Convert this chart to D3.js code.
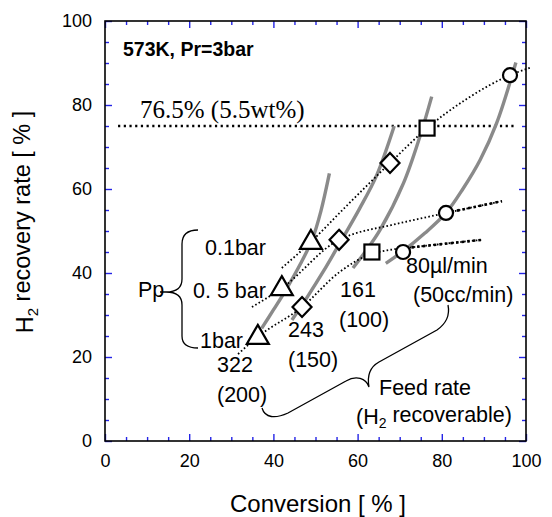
<!DOCTYPE html>
<html><head><meta charset="utf-8">
<script src="https://cdn.jsdelivr.net/npm/d3@7"></script>
<style>
body{margin:0;background:#fff;}
svg{display:block;}
text{font-family:"Liberation Sans",Arial,sans-serif;fill:#000;}
</style></head><body>
<svg id="c" width="552" height="517"></svg>
<script>
// ---- data ----
const majorTicks=[0,20,40,60,80,100];
const minorTicks=[5,10,15,25,30,35,45,50,55,65,70,75,85,90,95];
const targetLevel=75;
const targetSpan=[3.1,97.4];
// markers: feed rate 322(200), 243(150), 161(100), 80(50)
const triangles=[[36.3,24.8],[42.0,36.4],[48.9,47.4]];
const diamonds=[[46.8,31.9],[55.6,47.9],[67.7,66.2]];
const squares=[[63.4,45.0],[76.5,74.5]];
const circles=[[70.8,45.0],[81.0,54.3],[96.2,87.1]];
// gray feed-rate curves
const feed322=[[37.2,26.8],[40.0,31.2],[42.8,35.7],[46.5,42.3],[49.3,48.2],[51.3,54.8],[53.3,63.7]];
const feed243=[[44.4,28.8],[48.0,34.2],[52.0,40.6],[56.0,47.5],[60.5,55.4],[64.5,63.2],[68.7,75.0]];
const feed161=[[58.9,41.2],[62.0,45.3],[65.3,50.2],[70.9,61.4],[74.8,72.5],[77.6,82.0]];
const feed80=[[66.7,42.3],[70.8,45.2],[76.0,49.5],[81.0,54.3],[85.0,60.0],[89.1,66.9],[93.0,75.6],[97.6,90.1]];
// dotted partial-pressure curves
const pp1bar=[[31.6,20.7],[36.3,24.8],[46.8,31.9],[55.8,40.3],[63.4,44.6],[67.0,45.4],[72.8,46.1],[89.5,47.9]];
const pp05bar=[[34.9,31.9],[42.0,36.4],[55.6,47.9],[58.2,49.0],[68.0,51.4],[81.0,54.3],[94.3,57.1]];
const pp01bar=[[42.0,41.2],[48.9,47.4],[57.0,55.6],[67.7,66.2],[76.5,74.5],[86.0,81.5],[96.2,87.1],[101.4,89.0]];

// ---- drawing ----
const svg=d3.select("#c");
const x=d3.scaleLinear().domain([0,100]).range([105,526]);
const y=d3.scaleLinear().domain([0,100]).range([441,21]);
const tickCol="#2424e6";

function styleAxis(g){
  g.select(".domain").remove();
  g.selectAll(".tick line").attr("stroke",tickCol).attr("stroke-width",1.4);
  g.selectAll("text").style("font-size","18px").style("font-family",'"Liberation Sans",Arial,sans-serif').attr("fill","#000");
}
// major with labels
svg.append("g").attr("transform","translate(0,441)")
  .call(d3.axisBottom(x).tickValues(majorTicks).tickSize(-7).tickPadding(13).tickFormat(d3.format("d"))).call(styleAxis);
svg.append("g").attr("transform","translate(105,0)")
  .call(d3.axisLeft(y).tickValues(majorTicks).tickSize(-7).tickPadding(13).tickFormat(d3.format("d"))).call(styleAxis);
svg.append("g").attr("transform","translate(0,21)")
  .call(d3.axisTop(x).tickValues(majorTicks).tickSize(-7).tickFormat("")).call(styleAxis);
svg.append("g").attr("transform","translate(526,0)")
  .call(d3.axisRight(y).tickValues(majorTicks).tickSize(-7).tickFormat("")).call(styleAxis);
// minor
svg.append("g").attr("transform","translate(0,441)").call(d3.axisBottom(x).tickValues(minorTicks).tickSize(-4).tickFormat("")).call(styleAxis);
svg.append("g").attr("transform","translate(105,0)").call(d3.axisLeft(y).tickValues(minorTicks).tickSize(-4).tickFormat("")).call(styleAxis);
svg.append("g").attr("transform","translate(0,21)").call(d3.axisTop(x).tickValues(minorTicks).tickSize(-4).tickFormat("")).call(styleAxis);
svg.append("g").attr("transform","translate(526,0)").call(d3.axisRight(y).tickValues(minorTicks).tickSize(-4).tickFormat("")).call(styleAxis);

// frame
svg.append("rect").attr("x",x(0)).attr("y",y(100)).attr("width",x(100)-x(0)).attr("height",y(0)-y(100))
  .attr("fill","none").attr("stroke","#000").attr("stroke-width",1.6);

// axis titles
svg.append("text").attr("x",318).attr("y",512).attr("text-anchor","middle").style("font-size","24px").text("Conversion [ % ]");
const yt=svg.append("text").attr("transform","translate(33,222) rotate(-90)").attr("text-anchor","middle").style("font-size","23.5px");
yt.append("tspan").text("H");
yt.append("tspan").attr("dy","0.3em").style("font-size","15px").text("2");
yt.append("tspan").attr("dy","-0.3em").text(" recovery rate [ % ]");

// target line
svg.append("line").attr("x1",x(targetSpan[0])).attr("x2",x(targetSpan[1])).attr("y1",y(targetLevel)).attr("y2",y(targetLevel))
  .attr("stroke","#000").attr("stroke-width",2.4).attr("stroke-dasharray","2.2,3.5");
svg.append("text").attr("x",140).attr("y",118).style("font-family",'"Liberation Serif","Times New Roman",serif').style("font-size","25px").text("76.5% (5.5wt%)");

// gray curves
const gLine=d3.line().x(d=>x(d[0])).y(d=>y(d[1])).curve(d3.curveCatmullRom.alpha(0.5));
[feed322,feed243,feed161,feed80].forEach(s=>{
  svg.append("path").attr("d",gLine(s)).attr("fill","none").attr("stroke","#8a8a8a").attr("stroke-width",3.4).attr("stroke-linecap","butt");
});
// dotted curves
const dLine=d3.line().x(d=>x(d[0])).y(d=>y(d[1])).curve(d3.curveMonotoneX);
[pp1bar,pp05bar,pp01bar].forEach(s=>{
  svg.append("path").attr("d",dLine(s)).attr("fill","none").attr("stroke","#000").attr("stroke-width",1.8).attr("stroke-dasharray","1.6,2.3");
});
// thicker tails after last circle
[[pp1bar,circles[0][0]],[pp05bar,circles[1][0]]].forEach(([s,t])=>{
  const tail=s.filter(d=>d[0]>=t-0.01);
  if(tail.length<2){return;}
  svg.append("path").attr("d",dLine([[t,null]].length?tail:tail)).attr("fill","none").attr("stroke","#000").attr("stroke-width",2.6).attr("stroke-dasharray","2.6,3");
});

// markers
const mk=svg.append("g").attr("fill","#fff").attr("stroke","#000").attr("stroke-width",2.2);
mk.selectAll(".tri").data(triangles).join("path")
  .attr("d",d=>{const cx=x(d[0]),cy=y(d[1]);return `M${cx},${cy-12}L${cx+11},${cy+7}L${cx-11},${cy+7}Z`;});
mk.selectAll(".dia").data(diamonds).join("path")
  .attr("d",d=>{const cx=x(d[0]),cy=y(d[1]);return `M${cx},${cy-10}L${cx+9.5},${cy}L${cx},${cy+10}L${cx-9.5},${cy}Z`;});
mk.selectAll(".sq").data(squares).join("rect")
  .attr("x",d=>x(d[0])-7.5).attr("y",d=>y(d[1])-7.5).attr("width",15).attr("height",15);
mk.selectAll(".ci").data(circles).join("circle")
  .attr("cx",d=>x(d[0])).attr("cy",d=>y(d[1])).attr("r",7);

// annotations
svg.append("text").attr("x",123).attr("y",56).style("font-size","19.5px").style("font-weight","bold").text("573K, Pr=3bar");
const ann=[
  ["Pp",138,297],["0.1bar",205,255],["0. 5 bar",193,298],["1bar",200,348],
  ["322",217,372],["(200)",217,402],["243",288,337],["(150)",288,367],
  ["161",340,297],["(100)",339,327],["80µl/min",406,273],["(50cc/min)",413,302],
  ["Feed rate",379,395]
];
ann.forEach(a=>svg.append("text").attr("x",a[1]).attr("y",a[2]).style("font-size","21.5px").text(a[0]));
const hr=svg.append("text").attr("x",356).attr("y",424).style("font-size","21.5px");
hr.append("tspan").text("(H");
hr.append("tspan").attr("dy","0.3em").style("font-size","14px").text("2");
hr.append("tspan").attr("dy","-0.3em").text(" recoverable)");

// braces
svg.append("path").attr("fill","none").attr("stroke","#000").attr("stroke-width",1.3)
  .attr("d","M198,230 C188,230 182,234 182,244 L182,279 C182,288 177,292 166,292 L160,292 M166,292 C177,292 182,296 182,305 L182,336 C182,344 188,348 198,348");
svg.append("path").attr("fill","none").attr("stroke","#000").attr("stroke-width",1.3)
  .attr("d","M262,408 C265,418 275,419 288,413 L346,381 C356,375 366,378 369,387 C367,376 370,367 379,362 L437,330 C447,323 450,315 448,305");
</script>
</body></html>
